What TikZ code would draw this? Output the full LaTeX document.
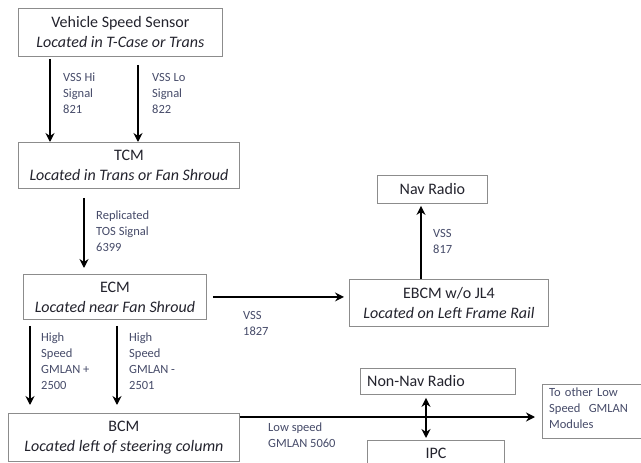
\documentclass[tikz,border=0pt]{standalone}
\usepackage{fontspec}
\setmainfont{Carlito}
\usetikzlibrary{arrows.meta}
\definecolor{boxline}{RGB}{140,140,140}
\definecolor{titlecol}{RGB}{35,35,45}
\definecolor{labcol}{RGB}{70,75,105}
\tikzset{
  box/.style={draw=boxline, line width=0.9pt, anchor=north west, inner sep=0pt, align=center, text=titlecol, font=\fontsize{16}{20}\selectfont},
  lab/.style={anchor=north west, inner sep=0pt, align=left, text=labcol, font=\fontsize{12.5}{16}\selectfont},
  arr/.style={line width=2pt, -{Stealth[length=9pt,width=9pt,inset=3pt]}},
  darr/.style={line width=2pt, {Stealth[length=9pt,width=9pt,inset=3pt]}-{Stealth[length=9pt,width=9pt,inset=3pt]}},
}
\begin{document}
\begin{tikzpicture}[x=1pt,y=-1pt]
\clip (0,0) rectangle (641,463);
\fill[white] (0,0) rectangle (641,463);
% boxes
\node[box, minimum width=204pt, minimum height=48pt] (vss) at (18,8) {Vehicle Speed Sensor\\\textit{Located in T-Case or Trans}};
\node[box, minimum width=221pt, minimum height=46pt] (tcm) at (18,142) {TCM\\\textit{Located in Trans or Fan Shroud}};
\node[box, minimum width=183pt, minimum height=45pt] (ecm) at (23,274) {ECM\\\textit{Located near Fan Shroud}};
\node[box, minimum width=231pt, minimum height=48pt] (bcm) at (8,413) {BCM\\\textit{Located left of steering column}};
\node[box, minimum width=199pt, minimum height=47pt] (ebcm) at (349,279) {EBCM w/o JL4\\\textit{Located on Left Frame Rail}};
\node[box, minimum width=110pt, minimum height=28pt] (nav) at (377,175) {Nav Radio};
\node[box, minimum width=155pt, minimum height=26pt] (nonnav) at (360,368) {};
\node[anchor=west, inner sep=0pt, text=titlecol, font=\fontsize{16}{20}\selectfont] (nonnavt) at (367,381) {Non-Nav Radio};
\node[box, minimum width=137pt, minimum height=26pt] (ipc) at (367,440) {IPC};
\node[box, minimum width=110pt, minimum height=54pt] (other) at (542,384) {};
\node[lab, text width=95pt] (othert) at (549,388) {To other Low\\Speed~ GMLAN\\Modules};
% coordinates
\coordinate (x1) at (50,0);
\coordinate (x2) at (138,0);
\coordinate (x3) at (84,0);
\coordinate (x4) at (30,0);
\coordinate (x5) at (117,0);
\coordinate (x6) at (421,0);
\coordinate (x7) at (426,0);
\coordinate (ylow) at (0,417);
\coordinate (lowend) at (535,417);
% connectors
\draw[arr] ([yshift=-2pt]vss.south -| x1) -- (tcm.north -| x1);
\draw[arr] ([yshift=-8pt]vss.south -| x2) -- (tcm.north -| x2);
\draw[arr] ([yshift=-9pt]tcm.south -| x3) -- ([yshift=6pt]ecm.north -| x3);
\draw[arr] ([yshift=-6pt]ecm.south -| x4) -- ([yshift=8pt]bcm.north -| x4);
\draw[arr] ([yshift=-6pt]ecm.south -| x5) -- ([yshift=8pt]bcm.north -| x5);
\draw[arr] ([xshift=6pt]ecm.east) -- ([xshift=-5pt]ecm.east -| ebcm.west);
\draw[arr] (ebcm.north -| x6) -- ([yshift=-2pt]nav.south -| x6);
\draw[arr] (bcm.east |- ylow) -- (lowend);
\draw[darr] ([yshift=-3pt]nonnav.south -| x7) -- ([yshift=2pt]ipc.north -| x7);
% labels
\node[lab] (l1) at (63,73) {VSS Hi\\Signal\\821};
\node[lab] (l2) at (152,73) {VSS Lo\\Signal\\822};
\node[lab] (l3) at (96,211) {Replicated\\TOS Signal\\6399};
\node[lab] (l4) at (41,333) {High\\Speed\\GMLAN +\\2500};
\node[lab] (l5) at (129,333) {High\\Speed\\GMLAN -\\2501};
\node[lab] (l6) at (243,311) {VSS\\1827};
\node[lab] (l7) at (433,229) {VSS\\817};
\node[lab] (l8) at (268,423) {Low speed\\GMLAN 5060};
\end{tikzpicture}
\end{document}
